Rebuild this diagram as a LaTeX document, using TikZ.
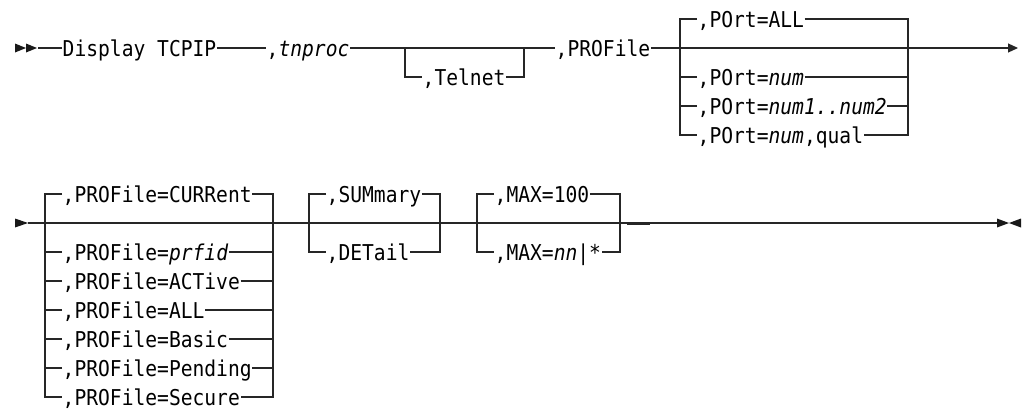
\documentclass[tikz,border=0pt]{standalone}
\usepackage{fontspec}
\setmonofont[FakeStretch=0.9]{DejaVu Sans Mono}
\usetikzlibrary{positioning, calc, arrows.meta}
\tikzset{rail/.style={line width=1.1pt, black!85}}
\tikzset{kw/.style={anchor=west, inner xsep=0.5pt, inner ysep=0pt, text height=16pt, text depth=0pt, font=\fontsize{21.8}{24}\selectfont\ttfamily}}
\tikzset{endtip/.style={-{Triangle[length=10pt, width=9pt]}}}
\tikzstyle{mark}=[fill=black!90]

\begin{document}
\begin{tikzpicture}[x=1pt, y=-1pt]
      \useasboundingbox (0,0) rectangle (1026,410);

      \coordinate (in1) at (38,48);
      \fill[black!90] (15,43.5) -- (26,48) -- (15,52.5) -- cycle;
      \fill[black!90] (26,43.5) -- (37,48) -- (26,52.5) -- cycle;

      \node[kw] (disp) at (62,48) {Display TCPIP};
      \node[kw] (tnp) at (266,48) {,\textit{tnproc}};
      \node[kw] (tel) at (422,77) {,Telnet};
      \node[kw] (prof) at (555,48) {,PROFile};
      \coordinate (telL) at (405,48);
      \coordinate (telR) at (524,48);

      \draw[rail] (in1) -- (disp);
      \draw[rail] (disp) -- (tnp);
      \draw[rail] (tnp) -- (prof);
      \draw[rail] (telL) |- (tel.west);
      \draw[rail] (tel.east) -| (telR);

      \coordinate (portL) at (680,48);
      \coordinate (portR) at (908,48);
      \coordinate (out1) at (1018,48);
      \node[kw] (pall) at (697,19) {,POrt=ALL};
      \node[kw] (pnum) at (697,77) {,POrt=\textit{num}};
      \node[kw] (prng) at (697,106) {,POrt=\textit{num1..num2}};
      \node[kw] (pqual) at (697,135) {,POrt=\textit{num},qual};

      \draw[rail, endtip] (prof) -- (out1);
      \draw[rail] (pall.west) -| (portL) |- (pqual.west);
      \draw[rail] (pall.east) -| (portR) |- (pqual.east);
      \draw[rail] (pnum.west) -- (pnum.west -| portL);
      \draw[rail] (pnum.east) -- (pnum.east -| portR);
      \draw[rail] (prng.west) -- (prng.west -| portL);
      \draw[rail] (prng.east) -- (prng.east -| portR);

      \coordinate (in2) at (28,223);
      \coordinate (out2) at (997,223);
      \fill[black!90] (15,218.5) -- (28,223) -- (15,227.5) -- cycle;
      \fill[black!90] (997,218.5) -- (1009,223) -- (997,227.5) -- cycle;
      \fill[black!90] (1021,218.5) -- (1009,223) -- (1021,227.5) -- cycle;
      \draw[rail] (in2) -- (out2);

      \coordinate (pfL) at (45,223);
      \coordinate (pfR) at (273,223);
      \node[kw] (pcur) at (62,194) {,PROFile=CURRent};
      \node[kw] (pprf) at (62,252) {,PROFile=\textit{prfid}};
      \node[kw] (pact) at (62,281) {,PROFile=ACTive};
      \node[kw] (pal2) at (62,310) {,PROFile=ALL};
      \node[kw] (pbas) at (62,339) {,PROFile=Basic};
      \node[kw] (ppen) at (62,368) {,PROFile=Pending};
      \node[kw] (psec) at (62,397) {,PROFile=Secure};

      \draw[rail] (pcur.west) -| (pfL) |- (psec.west);
      \draw[rail] (pcur.east) -| (pfR) |- (psec.east);
      \draw[rail] (pprf.west) -- (pprf.west -| pfL);
      \draw[rail] (pprf.east) -- (pprf.east -| pfR);
      \draw[rail] (pact.west) -- (pact.west -| pfL);
      \draw[rail] (pact.east) -- (pact.east -| pfR);
      \draw[rail] (pal2.west) -- (pal2.west -| pfL);
      \draw[rail] (pal2.east) -- (pal2.east -| pfR);
      \draw[rail] (pbas.west) -- (pbas.west -| pfL);
      \draw[rail] (pbas.east) -- (pbas.east -| pfR);
      \draw[rail] (ppen.west) -- (ppen.west -| pfL);
      \draw[rail] (ppen.east) -- (ppen.east -| pfR);

      \coordinate (smL) at (309,223);
      \coordinate (smR) at (440,223);
      \node[kw] (psum) at (326,194) {,SUMmary};
      \node[kw] (pdet) at (326,252) {,DETail};
      \draw[rail] (psum.west) -| (smL) |- (pdet.west);
      \draw[rail] (psum.east) -| (smR) |- (pdet.east);

      \coordinate (mxL) at (477,223);
      \coordinate (mxR) at (620,223);
      \node[kw] (pmax) at (494,194) {,MAX=100};
      \node[kw] (pnn) at (494,252) {,MAX=\textit{nn}|*};
      \draw[rail] (pmax.west) -| (mxL) |- (pnn.west);
      \draw[rail] (pmax.east) -| (mxR) |- (pnn.east);
      \draw[line width=2pt, black!85] (627,223.5) -- (650,223.5);
\end{tikzpicture}
\end{document}
